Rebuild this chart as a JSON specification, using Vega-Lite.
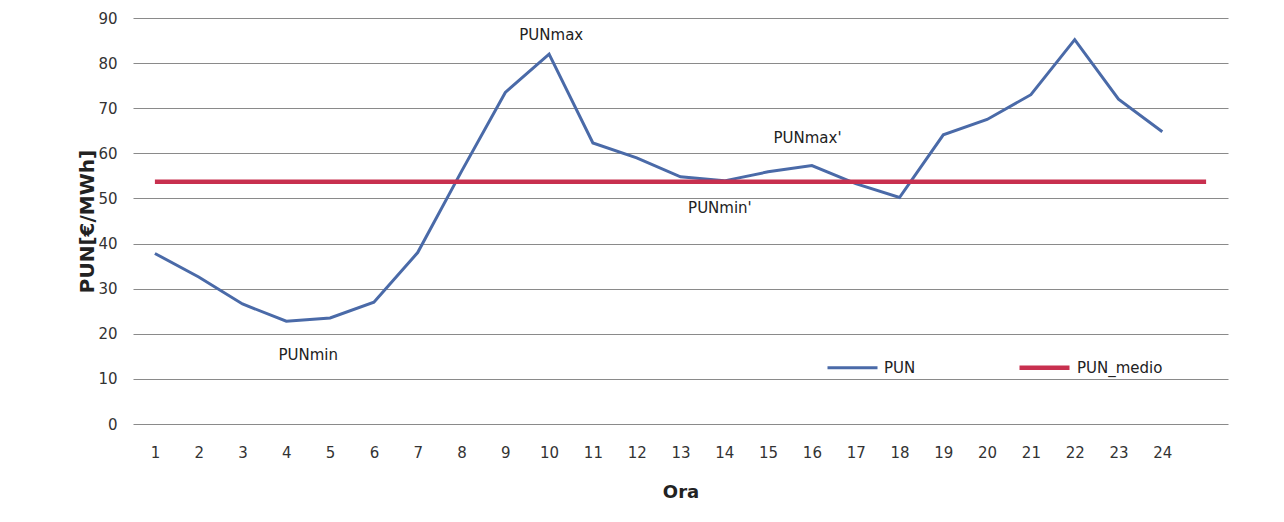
{
  "$schema": "https://vega.github.io/schema/vega-lite/v6.json",
  "width": 1095,
  "height": 406,
  "autosize": {"type": "none"},
  "padding": {"left": 133, "top": 18, "right": 56, "bottom": 98},
  "background": "white",
  "config": {
    "view": {"stroke": null},
    "font": "DejaVu Sans"
  },
  "datasets": {
    "series": [
      {"ora": 1, "valore": 37.8, "serie": "PUN"},
      {"ora": 2, "valore": 32.6, "serie": "PUN"},
      {"ora": 3, "valore": 26.6, "serie": "PUN"},
      {"ora": 4, "valore": 22.8, "serie": "PUN"},
      {"ora": 5, "valore": 23.5, "serie": "PUN"},
      {"ora": 6, "valore": 27.0, "serie": "PUN"},
      {"ora": 7, "valore": 38.0, "serie": "PUN"},
      {"ora": 8, "valore": 56.0, "serie": "PUN"},
      {"ora": 9, "valore": 73.5, "serie": "PUN"},
      {"ora": 10, "valore": 82.0, "serie": "PUN"},
      {"ora": 11, "valore": 62.3, "serie": "PUN"},
      {"ora": 12, "valore": 59.0, "serie": "PUN"},
      {"ora": 13, "valore": 54.8, "serie": "PUN"},
      {"ora": 14, "valore": 53.9, "serie": "PUN"},
      {"ora": 15, "valore": 55.9, "serie": "PUN"},
      {"ora": 16, "valore": 57.3, "serie": "PUN"},
      {"ora": 17, "valore": 53.3, "serie": "PUN"},
      {"ora": 18, "valore": 50.2, "serie": "PUN"},
      {"ora": 19, "valore": 64.1, "serie": "PUN"},
      {"ora": 20, "valore": 67.5, "serie": "PUN"},
      {"ora": 21, "valore": 73.0, "serie": "PUN"},
      {"ora": 22, "valore": 85.2, "serie": "PUN"},
      {"ora": 23, "valore": 72.0, "serie": "PUN"},
      {"ora": 24, "valore": 64.8, "serie": "PUN"},
      {"ora": 1, "valore": 53.7, "serie": "PUN_medio"},
      {"ora": 2, "valore": 53.7, "serie": "PUN_medio"},
      {"ora": 3, "valore": 53.7, "serie": "PUN_medio"},
      {"ora": 4, "valore": 53.7, "serie": "PUN_medio"},
      {"ora": 5, "valore": 53.7, "serie": "PUN_medio"},
      {"ora": 6, "valore": 53.7, "serie": "PUN_medio"},
      {"ora": 7, "valore": 53.7, "serie": "PUN_medio"},
      {"ora": 8, "valore": 53.7, "serie": "PUN_medio"},
      {"ora": 9, "valore": 53.7, "serie": "PUN_medio"},
      {"ora": 10, "valore": 53.7, "serie": "PUN_medio"},
      {"ora": 11, "valore": 53.7, "serie": "PUN_medio"},
      {"ora": 12, "valore": 53.7, "serie": "PUN_medio"},
      {"ora": 13, "valore": 53.7, "serie": "PUN_medio"},
      {"ora": 14, "valore": 53.7, "serie": "PUN_medio"},
      {"ora": 15, "valore": 53.7, "serie": "PUN_medio"},
      {"ora": 16, "valore": 53.7, "serie": "PUN_medio"},
      {"ora": 17, "valore": 53.7, "serie": "PUN_medio"},
      {"ora": 18, "valore": 53.7, "serie": "PUN_medio"},
      {"ora": 19, "valore": 53.7, "serie": "PUN_medio"},
      {"ora": 20, "valore": 53.7, "serie": "PUN_medio"},
      {"ora": 21, "valore": 53.7, "serie": "PUN_medio"},
      {"ora": 22, "valore": 53.7, "serie": "PUN_medio"},
      {"ora": 23, "valore": 53.7, "serie": "PUN_medio"},
      {"ora": 24, "valore": 53.7, "serie": "PUN_medio"},
      {"ora": 25, "valore": 53.7, "serie": "PUN_medio"}
    ],
    "note": [
      {"ora": 10.05, "valore": 86.3, "testo": "PUNmax"},
      {"ora": 4.5, "valore": 15.3, "testo": "PUNmin"},
      {"ora": 15.9, "valore": 63.5, "testo": "PUNmax'"},
      {"ora": 13.9, "valore": 47.9, "testo": "PUNmin'"}
    ]
  },
  "layer": [
    {
      "data": {"name": "series"},
      "mark": {"type": "line", "interpolate": "linear"},
      "encoding": {
        "x": {
          "field": "ora",
          "type": "quantitative",
          "scale": {"domain": [0.5, 25.5], "nice": false, "zero": false},
          "axis": {
            "title": "Ora",
            "titleFont": "DejaVu Sans",
            "titleFontSize": 18,
            "titleFontWeight": "bold",
            "titleColor": "#222222",
            "titlePadding": 23,
            "values": [1,2,3,4,5,6,7,8,9,10,11,12,13,14,15,16,17,18,19,20,21,22,23,24],
            "grid": false,
            "domain": false,
            "ticks": false,
            "labelPadding": 21,
            "labelFontSize": 15,
            "labelColor": "#333333",
            "labelFont": "DejaVu Sans"
          }
        },
        "y": {
          "field": "valore",
          "type": "quantitative",
          "scale": {"domain": [0, 90], "nice": false},
          "axis": {
            "title": "PUN[€/MWh]",
            "titleFont": "DejaVu Sans",
            "titleFontSize": 20,
            "titleFontWeight": "bold",
            "titleColor": "#222222",
            "titlePadding": 0,
            "values": [0,10,20,30,40,50,60,70,80,90],
            "grid": true,
            "gridColor": "#8a8a8a",
            "gridWidth": 1.2,
            "domain": false,
            "ticks": false,
            "labelPadding": 16,
            "labelFontSize": 15,
            "labelColor": "#333333",
            "labelFont": "DejaVu Sans"
          }
        },
        "color": {
          "field": "serie",
          "type": "nominal",
          "scale": {"domain": ["PUN", "PUN_medio"], "range": ["#4a6aa8", "#c8304f"]},
          "legend": {
            "title": null,
            "orient": "none",
            "legendX": 693,
            "legendY": 322,
            "direction": "horizontal",
            "symbolType": "stroke",
            "symbolSize": 2500,
            "symbolStrokeWidth": 4,
            "labelFontSize": 15,
            "labelFont": "DejaVu Sans",
            "labelColor": "#222222",
            "labelOffset": 5,
            "columnPadding": 94
          }
        },
        "strokeWidth": {
          "field": "serie",
          "type": "nominal",
          "scale": {"domain": ["PUN", "PUN_medio"], "range": [3, 4.5]},
          "legend": null
        }
      }
    },
    {
      "data": {"name": "note"},
      "mark": {"type": "text", "fontSize": 15, "font": "DejaVu Sans", "color": "#222222", "align": "center", "baseline": "middle"},
      "encoding": {
        "x": {"field": "ora", "type": "quantitative"},
        "y": {"field": "valore", "type": "quantitative"},
        "text": {"field": "testo", "type": "nominal"}
      }
    }
  ]
}
